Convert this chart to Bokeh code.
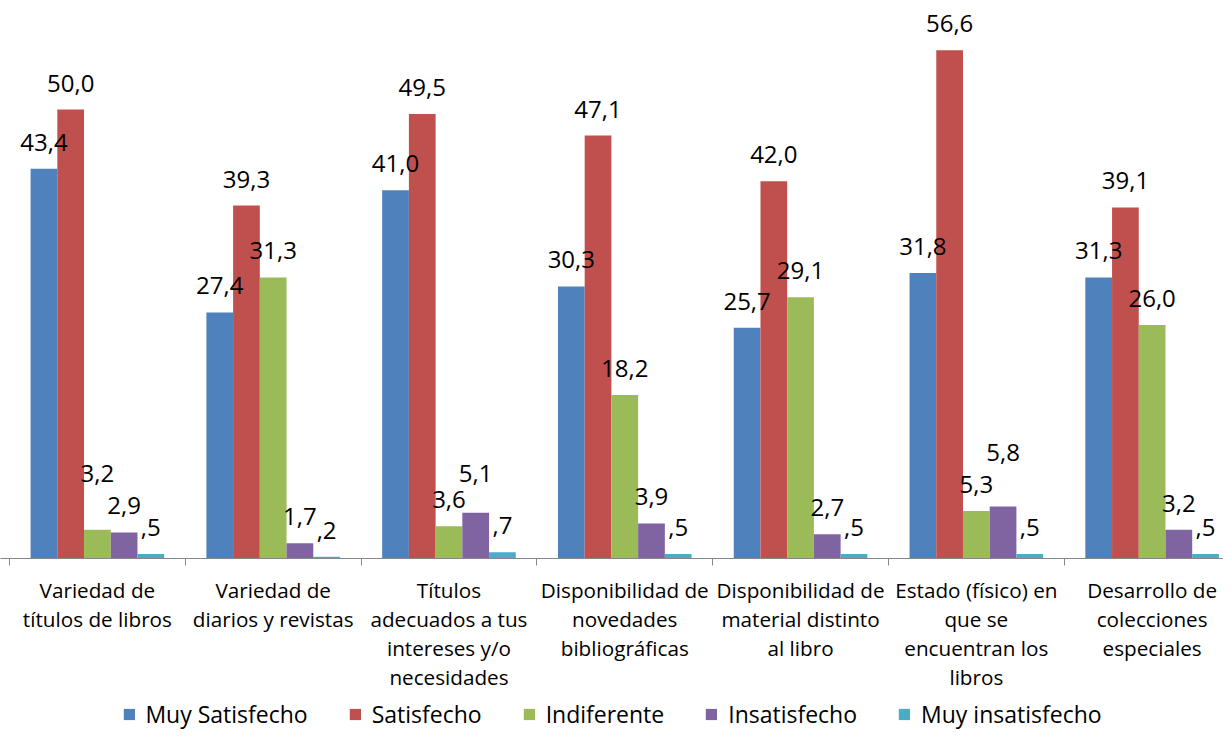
from bokeh.plotting import figure
from bokeh.layouts import column
from bokeh.models import Range1d, FixedTicker, Legend, LegendItem, ColumnDataSource
from bokeh.core.properties import value
from bokeh.embed import file_html
from bokeh.resources import INLINE

categories = [
    "Variedad de\ntítulos de libros",
    "Variedad de\ndiarios y revistas",
    "Títulos\nadecuados a tus\nintereses y/o\nnecesidades",
    "Disponibilidad de\nnovedades\nbibliográficas",
    "Disponibilidad de\nmaterial distinto\nal libro",
    "Estado (físico) en\nque se\nencuentran los\nlibros",
    "Desarrollo de\ncolecciones\nespeciales",
]
series_names = ["Muy Satisfecho", "Satisfecho", "Indiferente", "Insatisfecho", "Muy insatisfecho"]
muy_satisfecho = [43.4, 27.4, 41.0, 30.3, 25.7, 31.8, 31.3]
satisfecho = [50.0, 39.3, 49.5, 47.1, 42.0, 56.6, 39.1]
indiferente = [3.2, 31.3, 3.6, 18.2, 29.1, 5.3, 26.0]
insatisfecho = [2.9, 1.7, 5.1, 3.9, 2.7, 5.8, 3.2]
muy_insatisfecho = [0.5, 0.2, 0.7, 0.5, 0.5, 0.5, 0.5]
series_values = [muy_satisfecho, satisfecho, indiferente, insatisfecho, muy_insatisfecho]
colors = ["#4F81BD", "#C0504D", "#9BBB59", "#8064A2", "#4BACC6"]

# manual label nudges (pixels, negative = up), as in the reference
label_nudge = {(0, 2): -30, (2, 3): -13, (5, 3): -27}

FONT = "Open Sans"
bar_w = 0.152
n = len(categories)


def fmt(v):
    s = f"{v:.1f}".replace(".", ",")
    if s.startswith("0,"):
        s = s[1:]
    return s


p = figure(
    width=1223, height=695,
    x_range=Range1d(-0.0512, 6.906), y_range=Range1d(0, 62.14),
    output_backend="svg", toolbar_location=None, y_axis_location=None,
    min_border_left=0, min_border_right=0, min_border_top=0, min_border_bottom=137,
)
p.xgrid.visible = False
p.ygrid.visible = False
p.outline_line_color = None

label_sources = []
bar_sources = []
for j, (name, vals, col) in enumerate(zip(series_names, series_values, colors)):
    xs = [i + 0.5 + (j - 2) * bar_w for i in range(n)]
    src = ColumnDataSource(dict(x=xs, top=vals))
    bar_sources.append(src)
    p.vbar(x="x", top="top", bottom=0, width=bar_w, source=src,
           fill_color=col, line_color=None)
    label_sources.append(ColumnDataSource(dict(
        x=xs, y=vals, text=[fmt(v) for v in vals],
        dy=[-26.5 + label_nudge.get((i, j), 0) for i in range(n)],
    )))

for lsrc in label_sources:
    p.text(x="x", y="y", text="text", y_offset="dy", source=lsrc,
           text_align="center", text_baseline="middle",
           text_font=value(FONT), text_font_size="24px", text_color="black")

xa = p.xaxis[0]
xa.ticker = FixedTicker(ticks=[i + 0.5 for i in range(n)], minor_ticks=list(range(n + 1)))
xa.major_label_overrides = {i + 0.5: c for i, c in enumerate(categories)}
xa.major_label_text_font = FONT
xa.major_label_text_font_size = "20.7px"
xa.major_label_text_color = "black"
xa.major_label_text_line_height = 1.04
xa.major_label_standoff = 10
xa.axis_line_color = "#868686"
xa.major_tick_line_color = None
xa.major_tick_out = 6
xa.major_tick_in = 0
xa.minor_tick_line_color = "#868686"
xa.minor_tick_out = 7
xa.minor_tick_in = 0

# legend strip (its bars are hidden proxies of the same series)
lg = figure(
    width=1223, height=35, x_range=Range1d(0, 1), y_range=Range1d(0, 1),
    output_backend="svg", toolbar_location=None,
    x_axis_location=None, y_axis_location=None, min_border=0,
)
lg.xgrid.visible = False
lg.ygrid.visible = False
lg.outline_line_color = None
items = []
for name, col, src in zip(series_names, colors, bar_sources):
    r = lg.vbar(x="x", top="top", width=bar_w, source=src,
                fill_color=col, line_color=None, visible=False)
    items.append(LegendItem(label=name, renderers=[r]))

legend = Legend(
    items=items, orientation="horizontal", location="bottom_center",
    glyph_width=14, glyph_height=14, label_standoff=10, spacing=40,
    padding=0, margin=0, border_line_color=None, background_fill_alpha=0,
    inactive_fill_alpha=0, click_policy="none",
    label_text_font=FONT, label_text_font_size="23px", label_text_color="black",
)
lg.add_layout(legend)

layout = column(p, lg, spacing=0)
open("out.html", "w").write(file_html(layout, INLINE))
